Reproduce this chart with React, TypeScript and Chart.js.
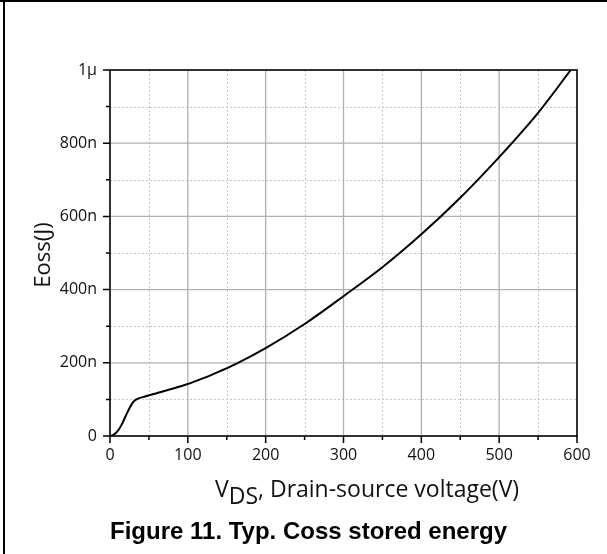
import { useEffect, useRef } from "react";
import { Chart, registerables } from "chart.js";

Chart.register(...registerables);

// Curve: drain-source voltage (V) vs. Coss stored energy (nJ)
const vdsVolts = [0, 5, 10, 15, 20, 25, 30, 34, 45, 60, 80, 100, 120, 140, 160, 200, 250, 300, 350, 400, 450, 500, 550, 592];
const eossNanoJ = [0, 4, 14, 31, 54, 76, 93, 100, 108, 117, 129, 142, 158, 176, 195, 240, 306, 382, 461, 551, 651, 762, 883, 1000];

const xMajorTicks = [0, 100, 200, 300, 400, 500, 600];
const xMinorTicks = [50, 150, 250, 350, 450, 550];
const xTickLabels = ["0", "100", "200", "300", "400", "500", "600"];
const yMajorTicks = [0, 200, 400, 600, 800, 1000];
const yMinorTicks = [100, 300, 500, 700, 900];
const yTickLabels = ["0", "200n", "400n", "600n", "800n", "1µ"];

const xTitleMain = "V";
const xTitleSub = "DS";
const xTitleRest = ", Drain-source voltage(V)";
const yTitle = "Eoss(J)";
const caption = "Figure 11. Typ. Coss stored energy";

const FONT = "'Open Sans', sans-serif";

const decorPlugin = {
  id: "decor",
  beforeDatasetsDraw(chart: any) {
    const { ctx, chartArea: a, scales } = chart;
    const x = scales.x;
    const y = scales.y;
    ctx.save();
    // minor dotted grid
    ctx.strokeStyle = "#c4c4c4";
    ctx.lineWidth = 1;
    ctx.setLineDash([2, 2]);
    for (const v of xMinorTicks) {
      const px = Math.round(x.getPixelForValue(v)) + 0.5;
      ctx.beginPath();
      ctx.moveTo(px, a.top);
      ctx.lineTo(px, a.bottom);
      ctx.stroke();
    }
    for (const v of yMinorTicks) {
      const py = Math.round(y.getPixelForValue(v)) + 0.5;
      ctx.beginPath();
      ctx.moveTo(a.left, py);
      ctx.lineTo(a.right, py);
      ctx.stroke();
    }
    // major solid grid
    ctx.setLineDash([]);
    ctx.strokeStyle = "#b0b0b0";
    ctx.lineWidth = 1.3;
    for (const v of xMajorTicks.slice(1, -1)) {
      const px = x.getPixelForValue(v);
      ctx.beginPath();
      ctx.moveTo(px, a.top);
      ctx.lineTo(px, a.bottom);
      ctx.stroke();
    }
    for (const v of yMajorTicks.slice(1, -1)) {
      const py = y.getPixelForValue(v);
      ctx.beginPath();
      ctx.moveTo(a.left, py);
      ctx.lineTo(a.right, py);
      ctx.stroke();
    }
    ctx.restore();
  },
  afterDatasetsDraw(chart: any) {
    const { ctx, chartArea: a, scales } = chart;
    const x = scales.x;
    const y = scales.y;
    ctx.save();
    // frame
    ctx.strokeStyle = "#000";
    ctx.lineWidth = 1.6;
    ctx.strokeRect(a.left, a.top, a.right - a.left, a.bottom - a.top);
    // ticks
    ctx.lineWidth = 1.5;
    ctx.beginPath();
    for (const v of xMajorTicks) {
      const px = x.getPixelForValue(v);
      ctx.moveTo(px, a.bottom);
      ctx.lineTo(px, a.bottom + 7);
    }
    for (const v of xMinorTicks) {
      const px = x.getPixelForValue(v);
      ctx.moveTo(px, a.bottom);
      ctx.lineTo(px, a.bottom + 4);
    }
    for (const v of yMajorTicks) {
      const py = y.getPixelForValue(v);
      ctx.moveTo(a.left, py);
      ctx.lineTo(a.left - 7, py);
    }
    for (const v of yMinorTicks) {
      const py = y.getPixelForValue(v);
      ctx.moveTo(a.left, py);
      ctx.lineTo(a.left - 4, py);
    }
    ctx.stroke();

    // y title
    ctx.fillStyle = "#111";
    ctx.font = `22px ${FONT}`;
    ctx.textAlign = "center";
    ctx.textBaseline = "middle";
    ctx.save();
    ctx.translate(44, (a.top + a.bottom) / 2 + 2);
    ctx.rotate(-Math.PI / 2);
    ctx.fillText(yTitle, 0, 0);
    ctx.restore();

    // x title with subscript
    ctx.textAlign = "left";
    ctx.textBaseline = "alphabetic";
    ctx.font = `23px ${FONT}`;
    let tx = 215;
    const base = 497;
    ctx.fillText(xTitleMain, tx, base);
    tx += ctx.measureText(xTitleMain).width;
    ctx.fillText(xTitleSub, tx, base + 7);
    tx += ctx.measureText(xTitleSub).width;
    ctx.fillText(xTitleRest, tx, base);

    // caption
    ctx.fillStyle = "#000";
    ctx.font = `bold 24px 'Liberation Sans', Arial, sans-serif`;
    ctx.fillText(caption, 110, 539);

    // page border (left and top)
    ctx.fillStyle = "#000";
    ctx.fillRect(0, 0, chart.width, 2);
    ctx.fillRect(3, 0, 2, chart.height);
    ctx.restore();
  },
};

export default function App() {
  const canvasRef = useRef<HTMLCanvasElement | null>(null);

  useEffect(() => {
    const canvas = canvasRef.current;
    if (!canvas) return;
    const chart = new Chart(canvas, {
      type: "line",
      data: {
        datasets: [
          {
            data: vdsVolts.map((v, i) => ({ x: v, y: eossNanoJ[i] })),
            borderColor: "#000",
            borderWidth: 2,
            pointRadius: 0,
            fill: false,
            cubicInterpolationMode: "monotone",
          },
        ],
      },
      options: {
        responsive: false,
        animation: false,
        devicePixelRatio: 1,
        layout: { padding: { top: 70, right: 30, left: 0, bottom: 0 } },
        plugins: {
          legend: { display: false },
          tooltip: { enabled: false },
          title: { display: false },
        },
        scales: {
          x: {
            type: "linear",
            min: 0,
            max: 600,
            afterBuildTicks: (s: any) => {
              s.ticks = xMajorTicks.map((v) => ({ value: v }));
            },
            afterFit: (s: any) => {
              s.height = 118;
            },
            grid: { display: false, drawTicks: false },
            border: { display: false },
            ticks: {
              autoSkip: false,
              maxRotation: 0,
              padding: 10,
              color: "#111",
              font: { family: FONT, size: 16 },
              callback: (_v: any, i: number) => xTickLabels[i],
            },
          },
          y: {
            type: "linear",
            min: 0,
            max: 1000,
            afterBuildTicks: (s: any) => {
              s.ticks = yMajorTicks.map((v) => ({ value: v }));
            },
            afterFit: (s: any) => {
              s.width = 110;
            },
            grid: { display: false, drawTicks: false },
            border: { display: false },
            ticks: {
              autoSkip: false,
              padding: 13,
              color: "#111",
              font: { family: FONT, size: 16 },
              callback: (_v: any, i: number) => yTickLabels[i],
            },
          },
        },
      },
      plugins: [decorPlugin],
    });
    return () => chart.destroy();
  }, []);

  return (
    <div style={{ position: "absolute", left: 0, top: 0, width: 607, height: 554, background: "#fff" }}>
      <canvas ref={canvasRef} width={607} height={554} style={{ display: "block" }} />
    </div>
  );
}
